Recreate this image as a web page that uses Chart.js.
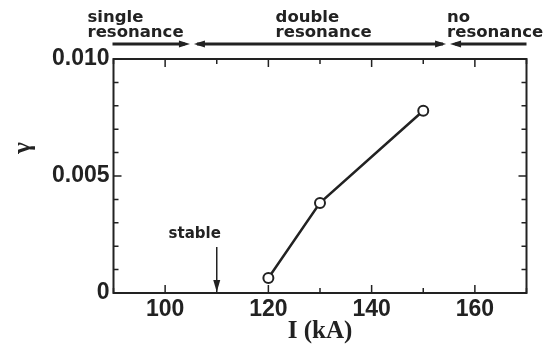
<!DOCTYPE html>
<html>
<head>
<meta charset="utf-8">
<script src="https://cdn.jsdelivr.net/npm/chart.js@4/dist/chart.umd.min.js"></script>
<style>
  html, body { margin: 0; background: #fff; }
</style>
</head>
<body>
<canvas id="chart" width="557" height="352"></canvas>
<script>
// data
const currentKA = [120, 130, 150];
const gamma = [0.00064, 0.00385, 0.00779];
const xTickLabels = [100, 120, 140, 160];
const yTickLabels = ['0', '0.005', '0.010'];
const regionEdges = [90, 105, 155, 170];
const regionLabels = [['single', 'resonance'], ['double', 'resonance'], ['no', 'resonance']];
const stableAt = 110;

const ink = '#222';
const tickFont = { family: '"Liberation Sans", Arial, sans-serif', size: 23, weight: 'bold' };

function arrowHead(ctx, x, y, dir) {
    // dir: +1 points right, -1 points left
    ctx.beginPath();
    ctx.moveTo(x, y);
    ctx.lineTo(x - dir * 11, y - 3.5);
    ctx.lineTo(x - dir * 11, y + 3.5);
    ctx.closePath();
    ctx.fill();
}

const frameAndTicks = {
    id: 'frameAndTicks',
    beforeDatasetsDraw(chart) {
        const { ctx, chartArea: a, scales } = chart;
        ctx.save();
        ctx.strokeStyle = ink;
        ctx.lineWidth = 2;
        ctx.strokeRect(a.left, a.top, a.right - a.left, a.bottom - a.top);

        ctx.lineWidth = 1.5;
        scales.x.ticks.forEach(t => {
            const px = scales.x.getPixelForValue(t.value);
            const len = xTickLabels.includes(t.value) ? 8 : 5;
            ctx.beginPath();
            ctx.moveTo(px, a.bottom); ctx.lineTo(px, a.bottom - len);
            ctx.moveTo(px, a.top); ctx.lineTo(px, a.top + len);
            ctx.stroke();
        });
        scales.y.ticks.forEach(t => {
            const py = scales.y.getPixelForValue(t.value);
            const major = Math.round(t.value * 1000) % 5 === 0;
            const len = major ? 8 : 5;
            ctx.beginPath();
            ctx.moveTo(a.left, py); ctx.lineTo(a.left + len, py);
            ctx.moveTo(a.right, py); ctx.lineTo(a.right - len, py);
            ctx.stroke();
        });
        ctx.restore();
    }
};

const annotations = {
    id: 'annotations',
    afterDraw(chart) {
        const { ctx, chartArea: a, scales } = chart;
        const x = v => scales.x.getPixelForValue(v);
        ctx.save();
        ctx.fillStyle = ink;
        ctx.strokeStyle = ink;

        // region arrows above the frame
        const ay = 44;
        const e = regionEdges.map(x);
        ctx.lineWidth = 3;
        ctx.beginPath();
        ctx.moveTo(e[0] - 1, ay); ctx.lineTo(e[1] - 6, ay);
        ctx.moveTo(e[1] + 6, ay); ctx.lineTo(e[2] - 6, ay);
        ctx.moveTo(e[2] + 6, ay); ctx.lineTo(e[3], ay);
        ctx.stroke();
        arrowHead(ctx, e[1] - 1, ay, 1);
        arrowHead(ctx, e[1] + 3, ay, -1);
        arrowHead(ctx, e[2] - 3, ay, 1);
        arrowHead(ctx, e[2] + 1, ay, -1);

        // region labels
        ctx.font = 'bold 16.5px "DejaVu Sans", sans-serif';
        ctx.textAlign = 'left';
        ctx.textBaseline = 'alphabetic';
        const labelLeft = [e[0] - 26, x(121.4), e[2] - 2];
        regionLabels.forEach((lines, i) => {
            ctx.fillText(lines[0], labelLeft[i], 22);
            ctx.fillText(lines[1], labelLeft[i], 37);
        });

        // "stable" marker
        const sx = x(stableAt);
        ctx.font = 'bold 15px "DejaVu Sans", sans-serif';
        ctx.textAlign = 'center';
        ctx.fillText('stable', sx - 22, 238);
        ctx.lineWidth = 1.5;
        ctx.beginPath();
        ctx.moveTo(sx, 247); ctx.lineTo(sx, a.bottom - 8);
        ctx.stroke();
        ctx.beginPath();
        ctx.moveTo(sx, a.bottom - 1);
        ctx.lineTo(sx - 3.5, a.bottom - 13);
        ctx.lineTo(sx + 3.5, a.bottom - 13);
        ctx.closePath();
        ctx.fill();

        // axis titles
        ctx.font = 'bold 25px "Liberation Serif", "Times New Roman", serif';
        ctx.textAlign = 'center';
        ctx.textBaseline = 'middle';
        ctx.fillText('I (kA)', (a.left + a.right) / 2, 332);
        ctx.save();
        ctx.translate(24, 148);
        ctx.rotate(-Math.PI / 2);
        ctx.font = 'bold 25px "Liberation Serif", "Times New Roman", serif';
        ctx.fillText('γ', 0, 0);
        ctx.restore();
        ctx.restore();
    }
};

new Chart(document.getElementById('chart'), {
    type: 'line',
    data: {
        datasets: [{
            data: currentKA.map((v, i) => ({ x: v, y: gamma[i] })),
            borderColor: ink,
            borderWidth: 2.5,
            tension: 0,
            pointRadius: 5,
            pointBackgroundColor: '#fff',
            pointBorderColor: ink,
            pointBorderWidth: 2
        }]
    },
    options: {
        responsive: false,
        animation: false,
        devicePixelRatio: 1,
        layout: { padding: { top: 59, right: 30.5, left: 0, bottom: 0 } },
        plugins: { legend: { display: false }, tooltip: { enabled: false } },
        scales: {
            x: {
                type: 'linear', min: 90, max: 170,
                grid: { display: false, drawTicks: false }, border: { display: false },
                ticks: {
                    stepSize: 10, autoSkip: false, maxRotation: 0, padding: 3,
                    color: ink, font: tickFont,
                    callback: v => xTickLabels.includes(v) ? String(v) : ''
                },
                afterFit: s => { s.height = 59; }
            },
            y: {
                type: 'linear', min: 0, max: 0.01,
                grid: { display: false, drawTicks: false }, border: { display: false },
                ticks: {
                    stepSize: 0.001, autoSkip: false, padding: 4,
                    color: ink, font: tickFont,
                    callback: v => {
                        const k = Math.round(v * 1000);
                        return k % 5 === 0 ? yTickLabels[k / 5] : '';
                    }
                },
                afterFit: s => { s.width = 113.5; }
            }
        }
    },
    plugins: [frameAndTicks, annotations]
});
</script>
</body>
</html>
